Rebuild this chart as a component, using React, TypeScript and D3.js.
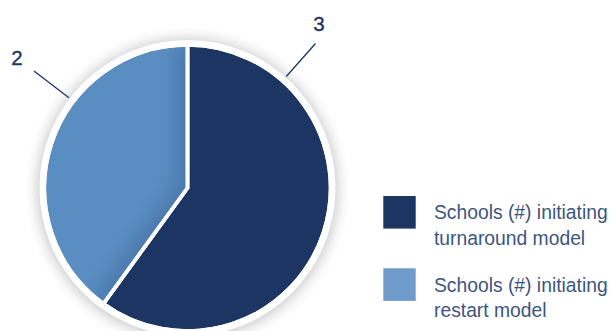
import React from "react";
import * as d3 from "d3";

const categories = ["Schools (#) initiating turnaround model", "Schools (#) initiating restart model"];
const legendLines = [["Schools (#) initiating", "turnaround model"], ["Schools (#) initiating", "restart model"]];
const values = [3, 2];
const pieColors = ["#1c3563", "#5a8dc1"];
const legendColors = ["#1c3563", "#6f9bcb"];

const W = 613, H = 331;
const cx = 187.5, cy = 188, R = 143, RING = 148;

export default function App() {
  const pie = d3.pie<number>().sort(null).value((d) => d);
  const arcs = pie(values);
  const arc = d3.arc<d3.PieArcDatum<number>>().innerRadius(0).outerRadius(R);
  const leaderAngles = [0.725, -0.92];
  const pt = (ang: number, r: number) => [cx + Math.sin(ang) * r, cy - Math.cos(ang) * r];
  const labelPos = [
    [319, 30.8],
    [17, 65.2],
  ];
  return (
    <svg width={W} height={H} style={{ position: "absolute", left: 0, top: 0, display: "block" }}>
      <defs>
        <filter id="sh" x="-30%" y="-30%" width="160%" height="160%">
          <feGaussianBlur stdDeviation="7" />
        </filter>
        <clipPath id="clipLight">
          <path d={arc(arcs[1]) || ""} transform={`translate(${cx},${cy})`} />
        </clipPath>
        <filter id="inner" x="-20%" y="-20%" width="140%" height="140%">
          <feGaussianBlur stdDeviation="10" />
        </filter>
      </defs>
      <circle cx={cx} cy={cy + 1} r={RING + 2} fill="#000" opacity={0.22} filter="url(#sh)" />
      <circle cx={cx} cy={cy} r={RING} fill="#fff" />
      <g transform={`translate(${cx},${cy})`}>
        {arcs.map((a, i) => (
          <path key={categories[i]} d={arc(a) || ""} fill={pieColors[i]} stroke="#fff" strokeWidth={3.5} strokeLinejoin="miter" />
        ))}
      </g>
      <g clipPath="url(#clipLight)">
        <path
          d={`M${cx},${cy - R} L${cx},${cy} L${pt(arcs[1].startAngle, R)[0]},${pt(arcs[1].startAngle, R)[1]}`}
          fill="none"
          stroke="#1c3563"
          strokeWidth={14}
          opacity={0.35}
          filter="url(#inner)"
        />
      </g>
      <g transform={`translate(${cx},${cy})`}>
        {arcs.map((a, i) => (
          <path key={"s" + i} d={arc(a) || ""} fill="none" stroke="#fff" strokeWidth={3.5} />
        ))}
      </g>
      {arcs.map((a, i) => {
        const ang = leaderAngles[i];
        const [x1, y1] = pt(ang, RING + 1);
        const [x2, y2] = pt(ang, RING + 45);
        return (
          <g key={"l" + i}>
            <line x1={x1} y1={y1} x2={x2} y2={y2} stroke="#1c3563" strokeWidth={1.3} />
            <text x={labelPos[i][0]} y={labelPos[i][1]} textAnchor="middle" fontFamily="Liberation Sans, Arial, sans-serif" fontSize={20.5} fill="#1c3563" stroke="#1c3563" strokeWidth={0.35}>
              {values[i]}
            </text>
          </g>
        );
      })}
      {legendLines.map((lines, i) => {
        const y0 = 196 + i * 72.3;
        return (
          <g key={"lg" + i}>
            <rect x={383.3} y={y0} width={32.4} height={32.6} fill={legendColors[i]} />
            {lines.map((t, j) => (
              <text key={j} x={434} y={y0 + 23.3 + j * 25.7} fontFamily="Liberation Sans, Arial, sans-serif" fontSize={19.3} fill="#3c5580">
                {t}
              </text>
            ))}
          </g>
        );
      })}
    </svg>
  );
}
